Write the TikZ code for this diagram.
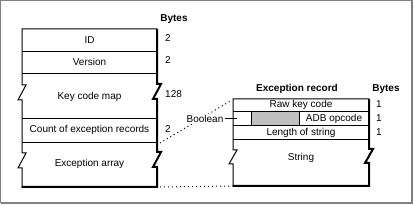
\documentclass[tikz,border=0pt]{standalone}
\usepackage{fontspec}
\setmainfont{Liberation Sans}
\definecolor{framegray}{RGB}{128,128,128}
\definecolor{boolgray}{RGB}{192,192,192}

\begin{document}
\begin{tikzpicture}[x=1pt, y=-1pt, font=\fontsize{10}{12}\selectfont,
        edge/.style={line width=1pt},
        shadowedge/.style={line width=2pt},
        dots/.style={line width=1pt, dash pattern=on 1pt off 3pt},
        num/.style={anchor=west, inner sep=0pt},
        head/.style={font=\fontsize{10}{12}\selectfont\bfseries, inner sep=0pt}]

        \useasboundingbox (0,0) rectangle (414,205);

        % outer frame
        \draw[framegray, line width=1pt] (0.5,203) -- (0.5,0.5) -- (412,0.5);
        \draw[framegray, line width=2pt] (412,0.5) -- (412,203) -- (0.5,203);

        % left structure: the key map resource
        \draw[edge] (157,29) -- (22,29) -- (22,85) -- (26,85) -- (18,100) -- (22,100)
                -- (22,153) -- (26,153) -- (18,168) -- (22,168) -- (22,187.5);
        \draw[shadowedge] (157,29) -- (157,84) -- (161,84) -- (153,99) -- (157,99)
                -- (157,152) -- (161,152) -- (153,167) -- (157,167) -- (157,187) -- (21.5,187);
        \draw[edge] (22,52) -- (157,52);
        \draw[edge] (22,74) -- (157,74);
        \draw[edge] (22,119) -- (157,119);
        \draw[edge] (22,143) -- (157,143);

        \node[head] (bytesL) at (174,19) {Bytes};
        \node (id) at (89.5,40) {ID};
        \node (version) at (89.5,62) {Version};
        \node (keymap) at (89.5,97) {Key code map};
        \node (count) at (89.5,130) {Count of exception records};
        \node (array) at (89.5,164) {Exception array};

        \node[num] (nId) at (165,38) {2};
        \node[num] (nVersion) at (165,60) {2};
        \node[num] (nKeymap) at (165,94) {128};
        \node[num] (nCount) at (165,129) {2};

        % right structure: one exception record
        \fill[boolgray] (251,112) rectangle (299,126);
        \draw[edge] (369,99) -- (233,99) -- (233,150) -- (237,150) -- (229,164) -- (233,164)
                -- (233,186.5);
        \draw[shadowedge] (369,99) -- (369,149) -- (373,149) -- (365,163) -- (369,163)
                -- (369,186) -- (232.5,186);
        \draw[edge] (233,112) -- (369,112);
        \draw[edge] (233,126) -- (369,126);
        \draw[edge] (233,140) -- (369,140);
        \draw[edge] (251,112) -- (251,126);
        \draw[edge] (299,112) -- (299,126);

        \node[head] (recTitle) at (297,89) {Exception record};
        \node[head] (bytesR) at (386,89) {Bytes};
        \node (rawkey) at (301,105) {Raw key code};
        \node (opcode) at (334,119) {ADB opcode};
        \node (length) at (301,133) {Length of string};
        \node (string) at (301,158) {String};

        \node[num] (nRaw) at (376,104) {1};
        \node[num] (nOpcode) at (376,118) {1};
        \node[num] (nLength) at (376,132) {1};

        % dotted lines tying the record to the array
        \coordinate (countCorner) at (160,143);
        \coordinate (recCorner) at (232,100);
        \coordinate (arrayCorner) at (160,187);
        \coordinate (recBottom) at (232,186);
        \draw[dots] (countCorner) -- (recCorner);
        \draw[dots] (arrayCorner) -- (recBottom);

        % the Boolean flag
        \node[fill=white, inner sep=1pt] (bool) at (205,119) {Boolean};
        \coordinate (boolEnd) at (237,119);
        \draw[edge] (bool.east) -- (boolEnd);
\end{tikzpicture}
\end{document}
